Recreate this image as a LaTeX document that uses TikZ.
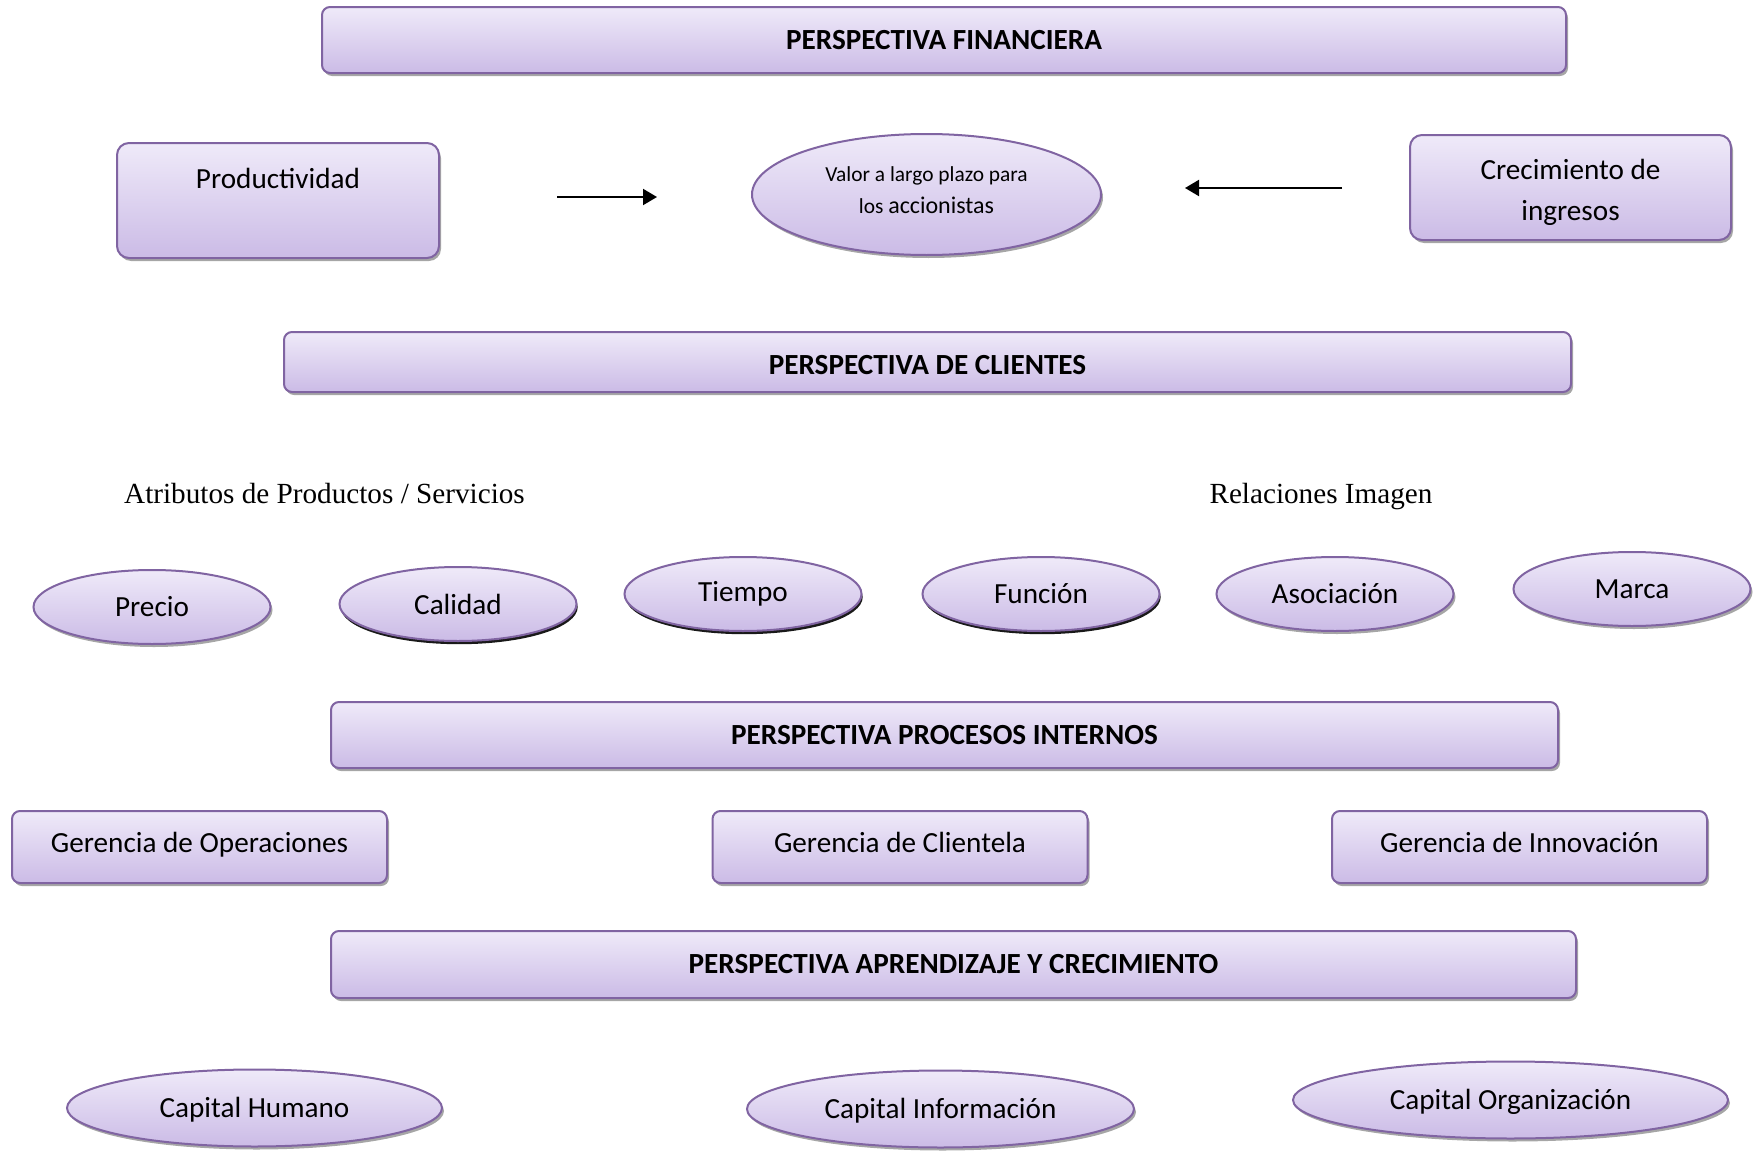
\documentclass[tikz,border=0pt]{standalone}
\usepackage{fontspec}
\setmainfont{Carlito}
\newfontfamily\timesfont{Liberation Serif}
\usetikzlibrary{shapes.geometric,shadows,arrows.meta}
\definecolor{boxline}{HTML}{8064A2}
\definecolor{boxtop}{HTML}{EFEAF9}
\definecolor{boxbot}{HTML}{CBBBE6}
\tikzset{
  base/.style={draw=boxline, line width=1pt, top color=boxtop, bottom color=boxbot,
    inner sep=0pt, align=center, font=\fontsize{14.6}{20.5}\selectfont},
  softshadow/.style={drop shadow={shadow xshift=1pt, shadow yshift=-1.5pt, fill=black, opacity=0.35}},
  darkshadow/.style={drop shadow={shadow xshift=0.6pt, shadow yshift=-1.6pt, fill=black, opacity=0.9}},
  header/.style={base, softshadow, rectangle, rounded corners=4pt,
    font=\fontsize{14.6}{17}\selectfont\bfseries},
  panel/.style={base, softshadow, rectangle, rounded corners=6pt},
  manager/.style={panel, rounded corners=4pt, minimum width=187.5pt, minimum height=36pt,
    text height=11pt, text depth=5.6pt},
  oval/.style={base, ellipse, minimum width=118.5pt, minimum height=37pt},
  capital/.style={oval, softshadow, minimum height=38.5pt, text height=13.5pt, text depth=3.6pt},
  plain/.style={font=\fontsize{14.6}{20.5}\selectfont, align=center},
  link/.style={line width=1pt, -{Triangle[length=7pt,width=8pt]}},
  serif/.style={font=\timesfont\fontsize{14.6}{17}\selectfont, text height=10.5pt, text depth=3pt}
}
\begin{document}
\begin{tikzpicture}[x=0.5pt,y=-0.5pt]
\useasboundingbox (0,0) rectangle (1753,1151);

% Financial perspective
\node[header, minimum width=622pt, minimum height=33pt] (fin) at (944,40) {PERSPECTIVA FINANCIERA};
\node[panel, minimum width=161pt, minimum height=57.5pt] (prod) at (278,200.5) {};
\node[plain] (prodtxt) at (278,178) {Productividad};
\node[oval, softshadow, minimum width=174.5pt, minimum height=60.5pt] (valor) at (926.5,194.5) {};
\node[font=\fontsize{10.7}{16}\selectfont, align=center] (valortxt) at (926.5,190)
  {Valor a largo plazo para\\los {\fontsize{12}{16}\selectfont accionistas}};
\node[panel, minimum width=160.5pt, minimum height=52.5pt] (crec) at (1570.5,187.5) {};
\node[plain] (crectxt) at (1570.5,192) {Crecimiento de\\ingresos};
\coordinate (a1s) at (557,197);
\coordinate (a1e) at (657,197);
\coordinate (a2s) at (1342,188);
\coordinate (a2e) at (1185,188);
\draw[link] (a1s) -- (a1e);
\draw[link] (a2s) -- (a2e);

% Customer perspective
\node[header, minimum width=643.5pt, minimum height=30pt, text height=12.8pt] (cli) at (927.5,362) {PERSPECTIVA DE CLIENTES};
\node[serif] (atrib) at (324.5,495.5) {Atributos de Productos / Servicios};
\node[serif] (relac) at (1321,495.5) {Relaciones Imagen};
\node[oval, softshadow] (precio) at (152,607) {Precio};
\node[oval, darkshadow] (calidad) at (458,604) {Calidad};
\node[oval, darkshadow] (tiempo) at (743,594) {Tiempo};
\node[oval, darkshadow] (funcion) at (1041,594) {Función};
\node[oval, softshadow] (asoc) at (1335,594) {Asociación};
\node[oval, softshadow] (marca) at (1632,589) {Marca};

% Internal processes
\node[header, minimum width=613.5pt, minimum height=33pt] (proc) at (944.5,735) {PERSPECTIVA PROCESOS INTERNOS};
\node[manager] (gop) at (199.5,847) {Gerencia de Operaciones};
\node[manager] (gcl) at (900,847) {Gerencia de Clientela};
\node[manager] (gin) at (1519.5,847) {Gerencia de Innovación};

% Learning and growth
\node[header, minimum width=622.5pt, minimum height=33.5pt] (apr) at (953.5,964.5) {PERSPECTIVA APRENDIZAJE Y CRECIMIENTO};
\node[capital, minimum width=187.5pt] (chum) at (254.5,1108) {Capital Humano};
\node[capital, minimum width=193.5pt] (cinf) at (940.5,1109) {Capital Información};
\node[capital, minimum width=217.5pt] (corg) at (1510.5,1100) {Capital Organización};
\end{tikzpicture}
\end{document}
